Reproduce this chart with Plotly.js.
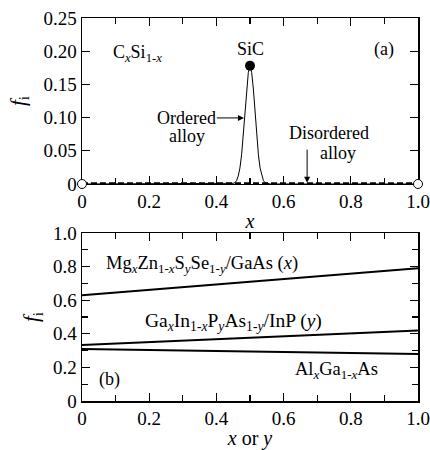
<!DOCTYPE html>
<html>
<head>
<meta charset="utf-8">
<script src="https://cdn.plot.ly/plotly-3.0.1.min.js"></script>
<style>html,body{margin:0;padding:0;background:#fff;}#chart{width:430px;height:450px;}</style>
</head>
<body>
<div id="chart"></div>
<script>
// ---- Panel (a): C_x Si_1-x ----
const orderedX = [0, 0.44, 0.45, 0.455, 0.46, 0.465, 0.47, 0.475, 0.48, 0.485, 0.49, 0.495, 0.5, 0.505, 0.51, 0.515, 0.52, 0.525, 0.53, 0.535, 0.54, 0.545, 0.55, 0.56, 1];
const orderedY = [0, 0, 0.001, 0.002, 0.005, 0.012, 0.024, 0.044, 0.073, 0.108, 0.143, 0.168, 0.178, 0.168, 0.143, 0.108, 0.073, 0.044, 0.024, 0.012, 0.005, 0.002, 0.001, 0, 0];
const disorderedX = [0, 1];
const disorderedY = [0, 0];
const endX = [0, 1];
const endY = [0, 0];
const sicX = [0.5];
const sicY = [0.178];

// ---- Panel (b) ----
const compX = [0, 1];
const mgznsseY = [0.63, 0.79];
const gainpasY = [0.333, 0.42];
const algaasY = [0.31, 0.28];

// ---- Tick labels ----
const xTickVals = [0, 0.2, 0.4, 0.6, 0.8, 1.0];
const xTickText = ['0', '0.2', '0.4', '0.6', '0.8', '1.0'];
const xMinorVals = [0.1, 0.3, 0.5, 0.7, 0.9];
const yaTickVals = [0, 0.05, 0.10, 0.15, 0.20, 0.25];
const yaTickText = ['0', '0.05', '0.10', '0.15', '0.20', '0.25'];
const ybTickVals = [0, 0.2, 0.4, 0.6, 0.8, 1.0];
const ybTickText = ['0', '0.2', '0.4', '0.6', '0.8', '1.0'];
const ybMinorVals = [0.1, 0.3, 0.5, 0.7, 0.9];

const FONT = 'Liberation Serif';

const traces = [
  {x: orderedX, y: orderedY, xaxis: 'x', yaxis: 'y', mode: 'lines', line: {color: '#000', width: 1}, cliponaxis: false},
  {x: disorderedX, y: disorderedY, xaxis: 'x', yaxis: 'y', mode: 'lines', line: {color: '#000', width: 3.5, dash: '6px,3px'}, cliponaxis: false},
  {x: endX, y: endY, xaxis: 'x', yaxis: 'y', mode: 'markers', marker: {symbol: 'circle', size: 9, color: '#fff', line: {color: '#000', width: 1}}, cliponaxis: false},
  {x: sicX, y: sicY, xaxis: 'x', yaxis: 'y', mode: 'markers', marker: {symbol: 'circle', size: 10, color: '#000'}, cliponaxis: false},
  {x: compX, y: mgznsseY, xaxis: 'x2', yaxis: 'y2', mode: 'lines', line: {color: '#000', width: 2}},
  {x: compX, y: gainpasY, xaxis: 'x2', yaxis: 'y2', mode: 'lines', line: {color: '#000', width: 2}},
  {x: compX, y: algaasY, xaxis: 'x2', yaxis: 'y2', mode: 'lines', line: {color: '#000', width: 2}}
];

function xAxis(anchor, title, standoff) {
  return {
    anchor: anchor, domain: [0, 1], range: [0, 1],
    tickmode: 'array', tickvals: xTickVals, ticktext: xTickText,
    ticks: 'inside', ticklen: 8, tickwidth: 1.3, tickcolor: '#000',
    minor: {tickmode: 'array', tickvals: xMinorVals, ticks: 'inside', ticklen: 6, tickwidth: 1.3, tickcolor: '#000'},
    showline: true, linecolor: '#000', linewidth: 1.5, mirror: 'ticks',
    showgrid: false, zeroline: false, layer: 'below traces',
    tickfont: {family: FONT, size: 19, color: '#000'},
    title: {text: title, font: {family: FONT, size: 20, color: '#000'}, standoff: standoff}
  };
}

const layout = {
  width: 430, height: 450,
  margin: {l: 82, r: 12, t: 18, b: 49},
  paper_bgcolor: '#fff', plot_bgcolor: '#fff',
  showlegend: false, hovermode: false,
  font: {family: FONT, color: '#000'},
  xaxis: xAxis('y', '<i>x</i>', 2),
  xaxis2: xAxis('y2', '<i>x</i> or <i>y</i>', 5),
  yaxis: {
    domain: [0.5666, 1], anchor: 'x', range: [0, 0.25],
    tickmode: 'array', tickvals: yaTickVals, ticktext: yaTickText,
    ticks: 'inside', ticklen: 8, tickwidth: 1.3, tickcolor: '#000',
    showline: true, linecolor: '#000', linewidth: 1.5, mirror: 'ticks',
    showgrid: false, zeroline: false, layer: 'below traces',
    tickfont: {family: FONT, size: 19, color: '#000'},
    title: {text: '<i>f</i><sub>i</sub>', font: {family: FONT, size: 21, color: '#000'}, standoff: 12}
  },
  yaxis2: {
    domain: [0, 0.4386], anchor: 'x2', range: [0, 1],
    tickmode: 'array', tickvals: ybTickVals, ticktext: ybTickText,
    ticks: 'inside', ticklen: 8, tickwidth: 1.3, tickcolor: '#000',
    minor: {tickmode: 'array', tickvals: ybMinorVals, ticks: 'inside', ticklen: 6, tickwidth: 1.3, tickcolor: '#000'},
    showline: true, linecolor: '#000', linewidth: 1.5, mirror: 'ticks',
    showgrid: false, zeroline: false,
    tickfont: {family: FONT, size: 19, color: '#000'},
    title: {text: '<i>f</i><sub>i</sub>', font: {family: FONT, size: 21, color: '#000'}, standoff: 8}
  },
  annotations: [
    {xref: 'x', yref: 'y', x: 0.164, y: 0.197, text: 'C<sub><i>x</i></sub>Si<sub>1-<i>x</i></sub>', showarrow: false, font: {family: FONT, size: 18, color: '#000'}},
    {xref: 'x', yref: 'y', x: 0.5, y: 0.203, text: 'SiC', showarrow: false, font: {family: FONT, size: 18, color: '#000'}},
    {xref: 'x', yref: 'y', x: 0.90, y: 0.203, text: '(a)', showarrow: false, font: {family: FONT, size: 18, color: '#000'}},
    {xref: 'x', yref: 'y', x: 0.482, y: 0.0995, axref: 'x', ayref: 'y', ax: 0.312, ay: 0.0995,
     text: 'Ordered', showarrow: true, arrowhead: 2, arrowsize: 1.2, arrowwidth: 1, arrowcolor: '#000', standoff: 0,
     borderpad: 0, font: {family: FONT, size: 18, color: '#000'}},
    {xref: 'x', yref: 'y', x: 0.312, y: 0.073, text: 'alloy', showarrow: false, borderpad: 0, font: {family: FONT, size: 18, color: '#000'}},
    {xref: 'x', yref: 'y', x: 0.735, y: 0.077, text: 'Disordered', showarrow: false, borderpad: 0, font: {family: FONT, size: 18, color: '#000'}},
    {xref: 'x', yref: 'y', x: 0.762, y: 0.047, text: 'alloy', showarrow: false, borderpad: 0, font: {family: FONT, size: 18, color: '#000'}},
    {xref: 'x', yref: 'y', x: 0.67, y: 0.002, axref: 'x', ayref: 'y', ax: 0.67, ay: 0.054,
     text: '', showarrow: true, arrowhead: 2, arrowsize: 1.2, arrowwidth: 1, arrowcolor: '#000', standoff: 0},
    {xref: 'x2', yref: 'y2', x: 0.357, y: 0.815, text: 'Mg<sub><i>x</i></sub>Zn<sub>1-<i>x</i></sub>S<sub><i>y</i></sub>Se<sub>1-<i>y</i></sub>/GaAs (<i>x</i>)', showarrow: false, font: {family: FONT, size: 18.5, color: '#000'}},
    {xref: 'x2', yref: 'y2', x: 0.452, y: 0.47, text: 'Ga<sub><i>x</i></sub>In<sub>1-<i>x</i></sub>P<sub><i>y</i></sub>As<sub>1-<i>y</i></sub>/InP (<i>y</i>)', showarrow: false, font: {family: FONT, size: 19.5, color: '#000'}},
    {xref: 'x2', yref: 'y2', x: 0.758, y: 0.18, text: 'Al<sub><i>x</i></sub>Ga<sub>1-<i>x</i></sub>As', showarrow: false, font: {family: FONT, size: 18.5, color: '#000'}},
    {xref: 'x2', yref: 'y2', x: 0.083, y: 0.13, text: '(b)', showarrow: false, font: {family: FONT, size: 18, color: '#000'}}
  ]
};

Plotly.newPlot('chart', traces, layout, {displayModeBar: false, staticPlot: true});
</script>
</body>
</html>
